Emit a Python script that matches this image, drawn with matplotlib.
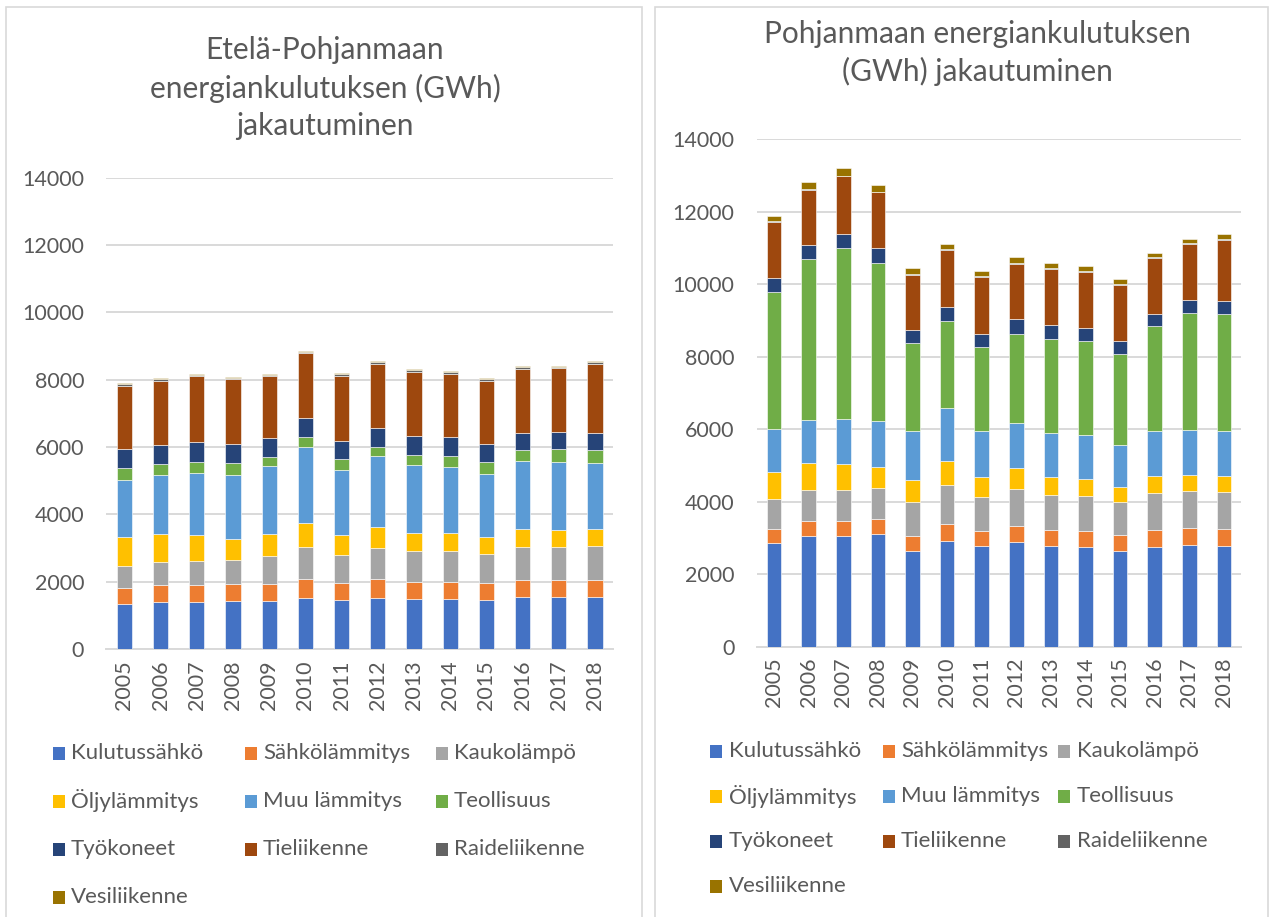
import matplotlib
matplotlib.use("Agg")
from matplotlib import pyplot as plt
from matplotlib.patches import Rectangle
import numpy as np

plt.rcParams['font.family'] = ['Lato', 'DejaVu Sans']

years = [str(y) for y in range(2005, 2019)]

series_names = ["Kulutussähkö", "Sähkölämmitys", "Kaukolämpö", "Öljylämmitys",
                "Muu lämmitys", "Teollisuus", "Työkoneet", "Tieliikenne",
                "Raideliikenne", "Vesiliikenne"]
colors = ["#4472C4", "#ED7D31", "#A5A5A5", "#FFC000", "#5B9BD5",
          "#70AD47", "#264478", "#9E480E", "#636363", "#997300"]

# Etelä-Pohjanmaa (GWh)
ep_kulutussahko = [1337, 1406, 1406, 1426, 1426, 1525, 1465, 1525, 1485, 1485, 1465, 1544, 1544, 1554]
ep_sahkolammitys = [485, 495, 505, 495, 514, 544, 505, 544, 515, 515, 495, 515, 505, 505]
ep_kaukolampo = [653, 693, 713, 732, 822, 951, 832, 941, 901, 901, 871, 980, 990, 1000]
ep_oljylammitys = [842, 822, 762, 614, 663, 722, 584, 613, 544, 544, 495, 515, 505, 495]
ep_muu_lammitys = [1692, 1742, 1831, 1891, 2000, 2248, 1920, 2099, 2010, 1970, 1871, 2030, 2020, 1960]
ep_teollisuus = [367, 336, 337, 356, 277, 306, 337, 277, 297, 317, 357, 336, 376, 396]
ep_tyokoneet = [574, 575, 604, 584, 575, 575, 545, 575, 574, 564, 534, 505, 515, 515]
ep_tieliikenne = [1871, 1901, 1940, 1921, 1841, 1930, 1930, 1900, 1911, 1881, 1882, 1901, 1881, 2049]
ep_raideliikenne = [40, 40, 45, 40, 30, 30, 40, 40, 40, 40, 40, 40, 50, 50]
ep_vesiliikenne = [30, 30, 25, 30, 20, 30, 30, 30, 30, 30, 30, 30, 30, 30]

# Pohjanmaa (GWh)
pm_kulutussahko = [2853, 3055, 3046, 3110, 2642, 2917, 2780, 2890, 2789, 2752, 2642, 2761, 2807, 2780]
pm_sahkolammitys = [386, 413, 422, 413, 413, 468, 413, 440, 431, 441, 441, 468, 459, 468]
pm_kaukolampo = [825, 853, 862, 853, 945, 1074, 935, 1028, 954, 954, 908, 1019, 1018, 1018]
pm_oljylammitys = [753, 734, 697, 587, 605, 660, 542, 578, 496, 477, 422, 467, 459, 440]
pm_muu_lammitys = [1183, 1202, 1248, 1266, 1340, 1468, 1275, 1238, 1229, 1202, 1137, 1230, 1229, 1239]
pm_teollisuus = [3789, 4422, 4725, 4358, 2422, 2404, 2312, 2459, 2578, 2614, 2533, 2890, 3230, 3238]
pm_tyokoneet = [385, 385, 394, 394, 367, 376, 367, 394, 385, 349, 348, 339, 348, 358]
pm_tieliikenne = [1542, 1541, 1578, 1551, 1514, 1569, 1569, 1523, 1551, 1541, 1541, 1542, 1551, 1679]
pm_raideliikenne = [20, 20, 20, 20, 20, 20, 20, 20, 20, 20, 20, 20, 20, 20]
pm_vesiliikenne = [145, 191, 201, 173, 172, 154, 154, 164, 145, 145, 136, 126, 127, 136]

ep_data = [ep_kulutussahko, ep_sahkolammitys, ep_kaukolampo, ep_oljylammitys, ep_muu_lammitys,
           ep_teollisuus, ep_tyokoneet, ep_tieliikenne, ep_raideliikenne, ep_vesiliikenne]
pm_data = [pm_kulutussahko, pm_sahkolammitys, pm_kaukolampo, pm_oljylammitys, pm_muu_lammitys,
           pm_teollisuus, pm_tyokoneet, pm_tieliikenne, pm_raideliikenne, pm_vesiliikenne]

W, H = 1270, 917
text_col = "#595959"
grid_col = "#D9D9D9"

fig = plt.figure(figsize=(W / 100, H / 100), dpi=100)


def px(x, y):
    # pixel coords (top-left origin) -> figure fraction
    return x / W, 1 - y / H


def draw_bars(ax, data):
    x = np.arange(len(years))
    bottom = np.zeros(len(years))
    for vals, c in zip(data, colors):
        ax.bar(x, vals, 0.42, bottom=bottom, color=c, edgecolor="white", linewidth=0.4, zorder=3)
        bottom += np.array(vals)
    ax.set_xlim(-0.5, len(years) - 0.5)
    ax.set_ylim(0, 14000)
    ax.set_yticks(range(0, 14001, 2000))
    ax.set_xticks(x)
    ax.set_xticklabels(years, rotation=90)
    ax.yaxis.grid(True, color=grid_col, linewidth=1.4, zorder=0)
    for s in ["top", "right", "left"]:
        ax.spines[s].set_visible(False)
    ax.spines["bottom"].set_color(grid_col)
    ax.spines["bottom"].set_linewidth(1.4)
    ax.tick_params(axis="both", length=0, labelsize=15.5, labelcolor=text_col)
    ax.tick_params(axis="x", pad=8)
    ax.tick_params(axis="y", pad=16)


def draw_legend(mark_xs, text_xs, row_ys):
    for i, (name, c) in enumerate(zip(series_names, colors)):
        r, k = divmod(i, 3)
        mx, my = px(mark_xs[k], row_ys[r] + 6.5)
        fig.patches.append(Rectangle((mx, my), 12 / W, 13 / H, transform=fig.transFigure,
                                     facecolor=c, edgecolor="none"))
        tx, ty = px(text_xs[k], row_ys[r])
        fig.text(tx, ty, name, fontsize=16, color=text_col, va="center", ha="left")


# panel frames
for x0, x1 in [(6, 642), (655, 1268)]:
    fx0, fy0 = px(x0, 930)
    fx1, fy1 = px(x1, 7)
    fig.patches.append(Rectangle((fx0, fy0), fx1 - fx0, fy1 - fy0, transform=fig.transFigure,
                                 facecolor="none", edgecolor=grid_col, linewidth=1.2))

# left chart
ax1 = fig.add_axes([106.4 / W, 1 - 649 / H, (613 - 106.4) / W, (649 - 177.7) / H])
draw_bars(ax1, ep_data)
tx, ty = px(325, 88)
fig.text(tx, ty, "Etelä-Pohjanmaan\nenergiankulutuksen (GWh)\njakautuminen", fontsize=21.5,
         color=text_col, ha="center", va="center", linespacing=1.4)
draw_legend([53, 245, 436], [71, 263, 454], [753, 801, 849, 897])

# right chart
ax2 = fig.add_axes([756.7 / W, 1 - 646.7 / H, (1241.3 - 756.7) / W, (646.7 - 139) / H])
draw_bars(ax2, pm_data)
tx, ty = px(977, 53)
fig.text(tx, ty, "Pohjanmaan energiankulutuksen\n(GWh) jakautuminen", fontsize=21.5,
         color=text_col, ha="center", va="center", linespacing=1.4)
draw_legend([710, 883, 1058], [729, 901, 1077], [751, 796, 841, 886])

fig.savefig("out.png", dpi=100)
